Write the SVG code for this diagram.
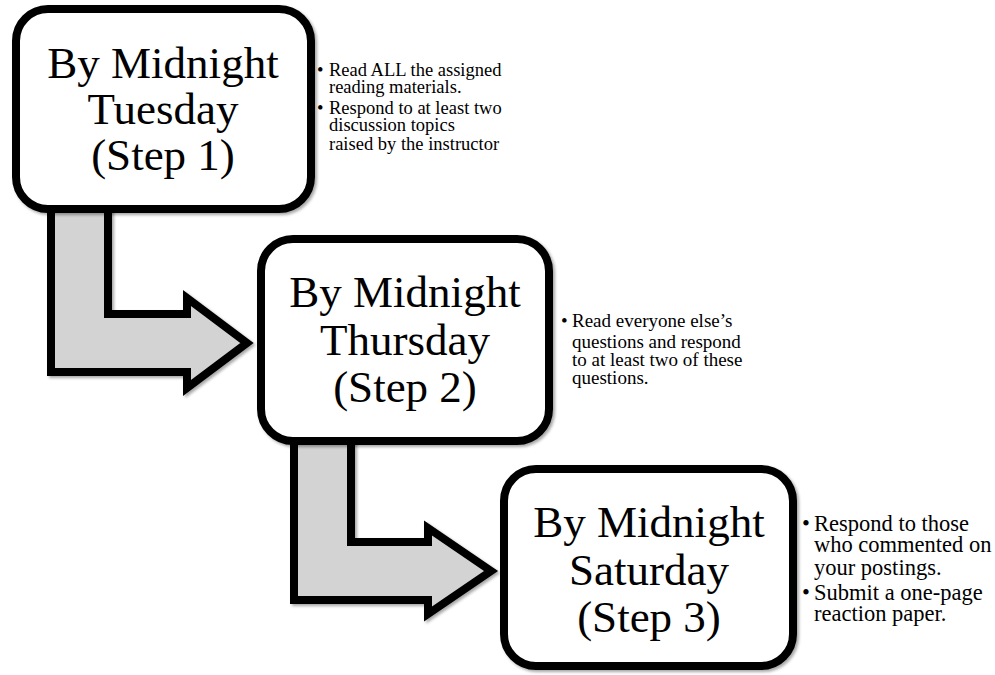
<svg xmlns="http://www.w3.org/2000/svg" width="995" height="675" viewBox="0 0 995 675">
<style>
.box{fill:#fff;stroke:#000;stroke-width:8}
.arr{fill:#d3d3d3;stroke:#000;stroke-width:8;stroke-linejoin:miter;stroke-miterlimit:10}
.title{font-family:"Liberation Serif","Times New Roman",serif;font-size:45px;fill:#000;text-anchor:middle}
.b{font-family:"Liberation Serif","Times New Roman",serif;fill:#000}
</style>
<defs>
<filter id="sh" x="-10%" y="-10%" width="120%" height="120%">
<feDropShadow dx="2" dy="2" stdDeviation="1.5" flood-color="#000" flood-opacity="0.35"/>
</filter>
</defs>
<rect width="995" height="675" fill="#fff"/>
<g id="connectors" filter="url(#sh)">
<polygon class="arr" points="51,200 108,200 108,314 187,314 187,298 247,343 187,388 187,372 51,372"/>
<polygon class="arr" points="294,430 351,430 351,542 428,542 428,528 491,571 428,614 428,600 294,600"/>
</g>
<g id="step1">
<rect class="box" x="16" y="9" width="295" height="200" rx="32" filter="url(#sh)"/>
<text class="title" x="163" y="78">By Midnight</text>
<text class="title" x="163" y="124">Tuesday</text>
<text class="title" x="163" y="170">(Step 1)</text>
</g>
<g id="notes1" class="b" font-size="18.5">
<text x="317" y="76">•</text><text x="329" y="76">Read ALL the assigned</text>
<text x="329" y="92.5">reading materials.</text>
<text x="317" y="114">•</text><text x="329" y="114">Respond to at least two</text>
<text x="329" y="130.5">discussion topics</text>
<text x="329" y="150">raised by the instructor</text>
</g>
<g id="step2">
<rect class="box" x="261" y="239" width="288" height="202" rx="32" filter="url(#sh)"/>
<text class="title" x="405" y="307">By Midnight</text>
<text class="title" x="405" y="355">Thursday</text>
<text class="title" x="405" y="402">(Step 2)</text>
</g>
<g id="notes2" class="b" font-size="19">
<text x="561" y="327">•</text><text x="572" y="327">Read everyone else’s</text>
<text x="572" y="348">questions and respond</text>
<text x="572" y="366">to at least two of these</text>
<text x="572" y="384">questions.</text>
</g>
<g id="step3">
<rect class="box" x="504" y="469" width="289" height="197" rx="32" filter="url(#sh)"/>
<text class="title" x="649" y="537">By Midnight</text>
<text class="title" x="649" y="585">Saturday</text>
<text class="title" x="649" y="632">(Step 3)</text>
</g>
<g id="notes3" class="b" font-size="22.5">
<text x="802" y="531">•</text><text x="814" y="531">Respond to those</text>
<text x="814" y="552">who commented on</text>
<text x="814" y="575">your postings.</text>
<text x="802" y="600">•</text><text x="814" y="600">Submit a one-page</text>
<text x="814" y="621">reaction paper.</text>
</g>
</svg>
